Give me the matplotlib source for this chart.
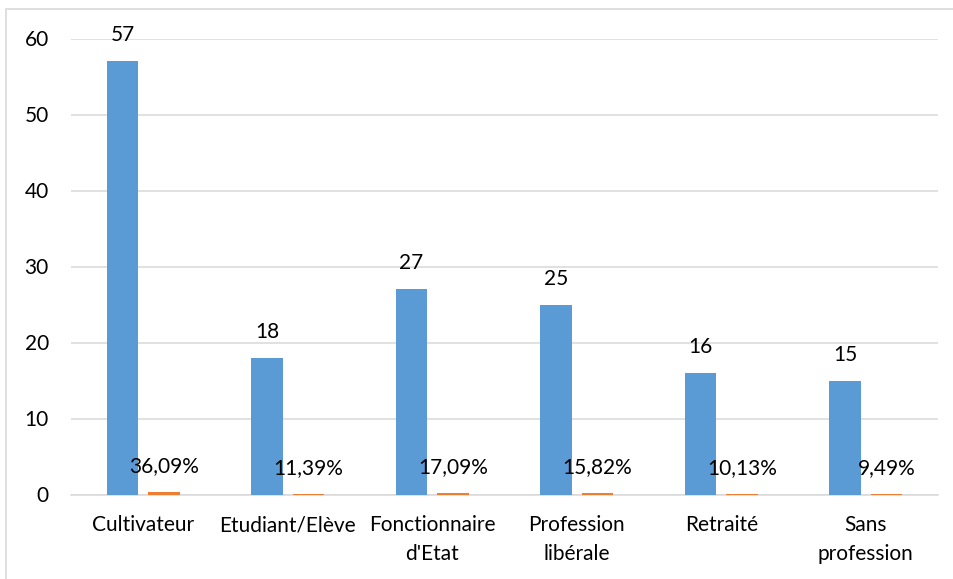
import matplotlib
matplotlib.use("Agg")
import matplotlib.pyplot as plt
from matplotlib.patches import Rectangle
import numpy as np

categories = ["Cultivateur", "Etudiant/Elève", "Fonctionnaire\nd'Etat",
              "Profession\nlibérale", "Retraité", "Sans\nprofession"]
effectifs = [57, 18, 27, 25, 16, 15]
pourcentages = [0.3609, 0.1139, 0.1709, 0.1582, 0.1013, 0.0949]
y_ticks = [0, 10, 20, 30, 40, 50, 60]

BLUE = "#5B9BD5"
ORANGE = "#ED7D31"
GRID = "#D9D9D9"

plt.rcParams["font.family"] = ["Lato", "DejaVu Sans"]

fig = plt.figure(figsize=(9.54, 5.79), dpi=100)
ax = fig.add_axes([71 / 954, 1 - 494.5 / 579, 867 / 954, 456 / 579])

x = np.arange(len(categories))
w = 0.22
off = 0.144
b1 = ax.bar(x - off, effectifs, width=w, color=BLUE, zorder=3)
b2 = ax.bar(x + off, pourcentages, width=w, color=ORANGE, zorder=3)

fs = 15
for rect, v in zip(b1, effectifs):
    ax.annotate(str(v), (rect.get_x() + rect.get_width() / 2, rect.get_height()),
                xytext=(0, 18.7), textcoords="offset points",
                ha="center", va="center", fontsize=fs, zorder=4)
for rect, v in zip(b2, pourcentages):
    txt = f"{v * 100:.2f}%".replace(".", ",")
    ax.annotate(txt, (rect.get_x() + rect.get_width() / 2, rect.get_height()),
                xytext=(0, 18.7), textcoords="offset points",
                ha="center", va="center", fontsize=fs, zorder=4)

ax.set_xlim(-0.5, len(categories) - 0.5)
ax.set_ylim(0, 60)
ax.set_yticks(y_ticks)
ax.set_yticklabels([str(t) for t in y_ticks], fontsize=fs)
ax.set_xticks(x)
ax.set_xticklabels(categories, fontsize=fs, linespacing=1.55)
ax.tick_params(axis="y", length=0, pad=16)
ax.tick_params(axis="x", length=0, pad=15)
ax.grid(axis="y", color=GRID, linewidth=1.1, zorder=0)
for s in ["top", "right", "left"]:
    ax.spines[s].set_visible(False)
ax.spines["bottom"].set_color(GRID)
ax.spines["bottom"].set_linewidth(1.1)

fig.patches.append(Rectangle((6 / 954, -0.1), 2.0, 1.1 - 9.5 / 579,
                             transform=fig.transFigure, fill=False,
                             edgecolor=GRID, linewidth=1.2))

fig.savefig("out.png", dpi=100)
